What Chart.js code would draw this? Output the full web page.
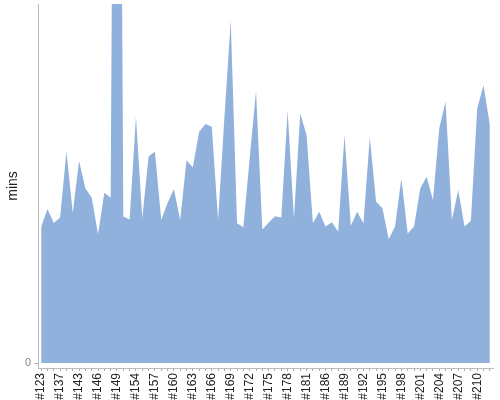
<!DOCTYPE html>
<html>
<head>
<meta charset="utf-8">
<script src="https://cdn.jsdelivr.net/npm/chart.js@4"></script>
<style>
  html, body { margin: 0; padding: 0; background: #fff; }
  #wrap { width: 500px; height: 400px; }
</style>
</head>
<body>
<div id="wrap"><canvas id="c" width="500" height="400"></canvas></div>
<script>
const categories = [
  '#123','#130','#134','#137','#139','#141','#143','#144','#145','#146','#147','#148',
  '#149','#151','#152','#154','#155','#156','#157','#158','#159','#160','#161','#162',
  '#163','#164','#165','#166','#167','#168','#169','#170','#171','#172','#173','#174',
  '#175','#176','#177','#178','#179','#180','#181','#183','#184','#186','#187','#188',
  '#189','#190','#191','#192','#193','#194','#195','#196','#197','#198','#199','#200',
  '#201','#202','#203','#204','#205','#206','#207','#208','#209','#210','#211','#212'
];
const minsValues = [
  37.9, 42.9, 39.0, 40.5, 58.9, 41.8, 56.3, 48.7, 46.0, 35.9, 47.4, 46.0,
  360, 40.8, 40.0, 68.6, 40.3, 57.5, 58.9, 39.8, 44.6, 48.5, 39.8, 56.5,
  54.5, 64.4, 66.6, 65.8, 39.8, 68.5, 95.3, 38.9, 37.8, 57.1, 75.8, 37.2,
  39.1, 40.9, 40.5, 70.3, 40.3, 69.4, 63.5, 38.9, 42.1, 38.0, 39.2, 36.6,
  63.5, 38.2, 42.1, 38.9, 62.9, 44.9, 43.1, 34.5, 38.0, 51.4, 36.1, 38.0,
  48.7, 51.9, 45.4, 65.4, 72.8, 39.8, 48.2, 38.0, 39.6, 70.9, 77.4, 66.3
];
const yTickValues = [0];
const yTitle = 'mins';

new Chart(document.getElementById('c'), {
  type: 'line',
  data: {
    labels: categories,
    datasets: [{
      data: minsValues,
      fill: 'origin',
      backgroundColor: '#8fb1db',
      borderColor: '#8fb1db',
      borderWidth: 0,
      pointRadius: 0,
      tension: 0
    }]
  },
  options: {
    responsive: false,
    animation: false,
    devicePixelRatio: 1,
    layout: { padding: { top: 4, right: 7, bottom: 0, left: 0 } },
    plugins: { legend: { display: false }, tooltip: { enabled: false } },
    scales: {
      x: {
        type: 'category',
        offset: true,
        grid: { display: true, drawOnChartArea: false, offset: false, tickLength: 3, color: '#aaa' },
        border: { display: true, color: '#bbb' },
        ticks: {
          autoSkip: false,
          maxRotation: 90,
          minRotation: 90,
          padding: 2,
          color: '#222',
          font: { family: 'Liberation Sans, Arial, sans-serif', size: 12 },
          callback: function (val, idx) { return idx % 3 === 0 ? this.getLabelForValue(val) : ''; }
        },
        afterFit: function (scale) {
          scale.height = 32;
          scale.paddingLeft = 0; scale.paddingRight = 0;
          scale.paddingTop = 0; scale.paddingBottom = 0;
        }
      },
      y: {
        min: -1.39,
        max: 100,
        afterBuildTicks: function (scale) { scale.ticks = yTickValues.map(v => ({ value: v })); },
        grid: { display: true, drawOnChartArea: false, tickLength: 3, color: '#aaa' },
        border: { display: true, color: '#bbb' },
        ticks: {
          padding: 4,
          color: '#888',
          font: { family: 'Liberation Sans, Arial, sans-serif', size: 11 }
        },
        title: {
          display: true,
          text: yTitle,
          color: '#222',
          padding: { top: 5, bottom: 0 },
          font: { family: 'Liberation Sans, Arial, sans-serif', size: 14 }
        },
        afterFit: function (scale) {
          scale.width = 38;
          scale.paddingLeft = 0; scale.paddingRight = 0;
          scale.paddingTop = 0; scale.paddingBottom = 0;
        }
      }
    }
  }
});
</script>
</body>
</html>
